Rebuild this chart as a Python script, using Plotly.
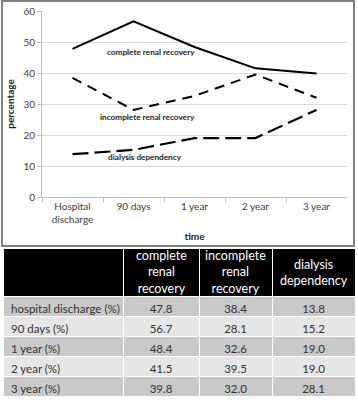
import plotly.graph_objects as go

categories = ["Hospital<br>discharge", "90 days", "1 year", "2 year", "3 year"]
complete = [47.8, 56.7, 48.4, 41.5, 39.8]
incomplete = [38.4, 28.1, 32.6, 39.5, 32.0]
dialysis = [13.8, 15.2, 19.0, 19.0, 28.1]
row_labels = ["hospital discharge (%)", "90 days (%)", "1 year (%)", "2 year (%)", "3 year (%)"]
header_labels = ["", "complete<br>renal<br>recovery", "incomplete<br>renal<br>recovery", "dialysis<br>dependency"]
series_names = ["complete renal recovery", "incomplete renal recovery", "dialysis dependency"]

W, H = 358, 400
def px(x): return x / W
def py(y): return 1 - y / H

FONT = "Lato, 'Open Sans', sans-serif"

def no_wrap(s):
    return s.replace(" ", "\u00a0")

fig = go.Figure()
styles = [("solid", 2), ("10px,7px", 2), ("16px,6px", 2.2)]
for name, vals, (dash, w) in zip(series_names, [complete, incomplete, dialysis], styles):
    fig.add_trace(go.Scatter(x=categories, y=vals, mode="lines", name=name,
                             line=dict(color="black", width=w, dash=dash),
                             xaxis="x", yaxis="y", showlegend=False))

# table geometry
T_LEFT, T_RIGHT, T_TOP, T_BOTTOM = 3, 355, 248, 398
HEADER_H = 48
col_w = [120, 76, 73, 83]

fmt = lambda v: f"{v:.1f}"
n = len(row_labels)
fills_rows = ["#c9c9c9" if i % 2 == 0 else "#e6e6e6" for i in range(n)]
fig.add_trace(go.Table(
    domain=dict(x=[px(T_LEFT), px(T_RIGHT)], y=[py(T_BOTTOM), py(T_TOP)]),
    columnwidth=col_w,
    header=dict(values=[""] * len(header_labels), fill_color="black", height=HEADER_H,
                line=dict(color="white", width=1),
                font=dict(family=FONT, size=12, color="white"),
                align="center"),
    cells=dict(values=[[no_wrap(r) for r in row_labels], [fmt(v) for v in complete],
                       [fmt(v) for v in incomplete], [fmt(v) for v in dialysis]],
               fill_color=[fills_rows] * 4, height=20,
               line=dict(color="white", width=1),
               font=dict(family=FONT, size=11.5, color="#333333"),
               align=["left", "center", "center", "center"]),
))

# header labels as centred multi-line text over the black header row
total = sum(col_w)
scale = (T_RIGHT - T_LEFT) / total
x0 = T_LEFT
for lab, w in zip(header_labels, col_w):
    cx = x0 + w * scale / 2
    x0 += w * scale
    if lab:
        fig.add_annotation(text=lab, x=px(cx), y=py(T_TOP + HEADER_H / 2),
                           xref="paper", yref="paper", xanchor="center", yanchor="middle",
                           showarrow=False, align="center",
                           font=dict(family=FONT, size=12.5, color="white"))

fig.update_layout(
    width=W, height=H, margin=dict(l=0, r=0, t=0, b=0, autoexpand=False),
    paper_bgcolor="white", plot_bgcolor="white",
    font=dict(family=FONT, color="#404040"),
    xaxis=dict(domain=[px(42), px(347)], type="category", showgrid=False,
               range=[-0.5, 4.5], automargin=False,
               showline=True, linecolor="#bfbfbf", linewidth=1,
               ticks="outside", tickson="boundaries", ticklen=4, tickcolor="#bfbfbf",
               tickfont=dict(size=10, color="#404040"),
               title=dict(text="<b>time</b>", font=dict(size=10, color="#222"), standoff=8),
               fixedrange=True),
    yaxis=dict(domain=[py(197), py(11)], range=[0, 60], dtick=10, automargin=False,
               showgrid=True, gridcolor="#d9d9d9", gridwidth=1, zeroline=False,
               showline=True, linecolor="#bfbfbf", linewidth=1,
               ticks="outside", ticklen=4, tickcolor="#bfbfbf",
               tickfont=dict(size=10, color="#404040"),
               title=dict(text="<b>percentage</b>", font=dict(size=10, color="#222"), standoff=6),
               fixedrange=True),
    shapes=[dict(type="rect", xref="paper", yref="paper",
                 x0=px(2), x1=px(354), y0=py(246), y1=py(1),
                 line=dict(color="#808080", width=2), layer="below")],
)

label_pos = [(151, 52), (147, 117), (145, 157)]
for name, (x, y) in zip(series_names, label_pos):
    fig.add_annotation(text=f"<b>{name}</b>", x=px(x), y=py(y), xref="paper", yref="paper",
                       xanchor="center", yanchor="middle",
                       showarrow=False, font=dict(size=8.2, color="#222"))

fig.write_html("out.html", config={"displayModeBar": False},
               post_script="document.body.style.margin='0';")
